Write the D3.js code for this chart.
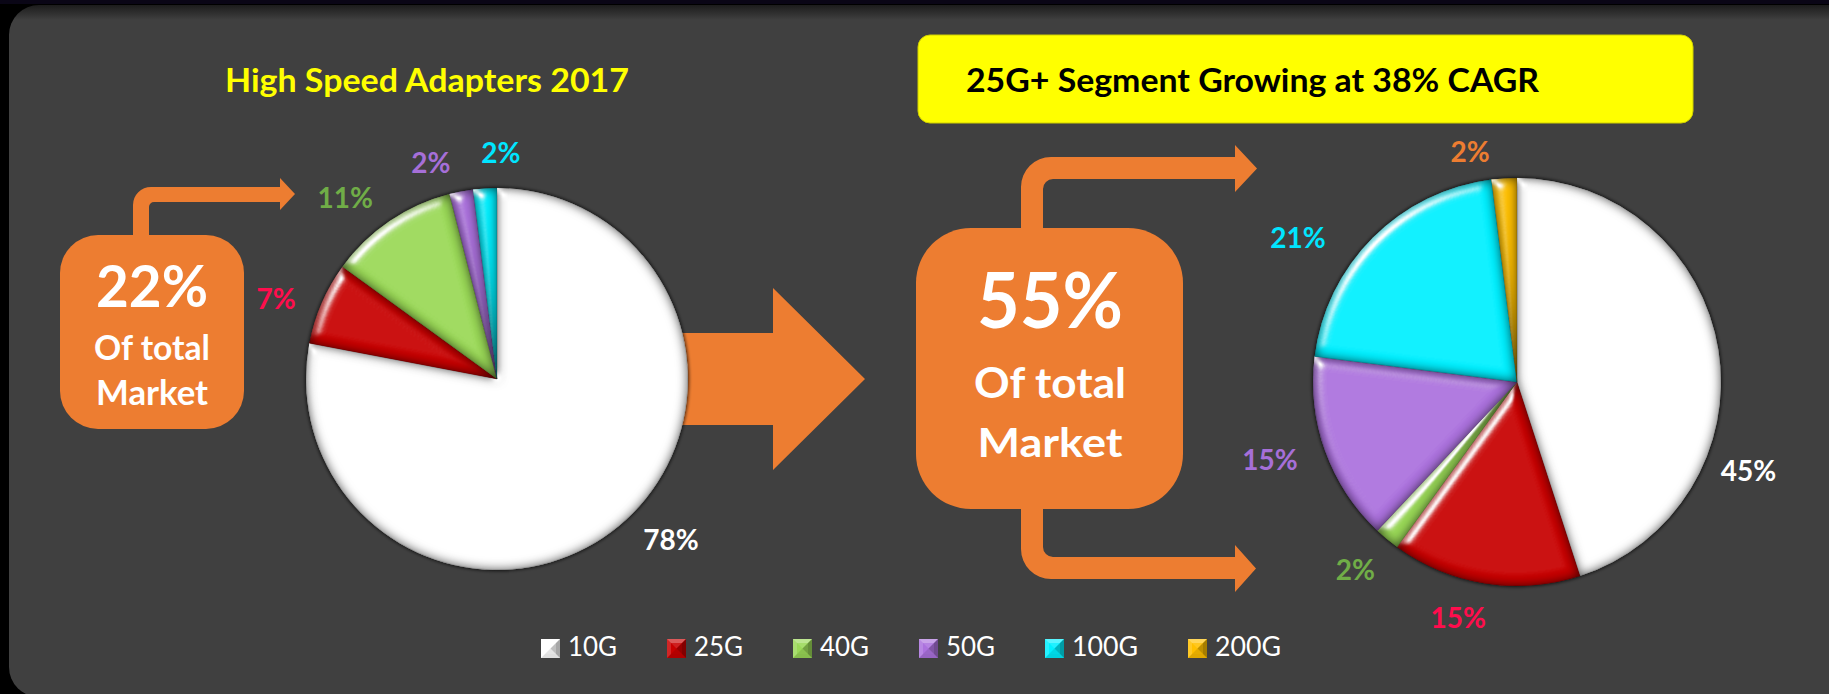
<!DOCTYPE html>
<html><head><meta charset="utf-8">
<script src="https://cdn.jsdelivr.net/npm/d3@7"></script>
<style>
html,body{margin:0;padding:0;background:#000;overflow:hidden;}
svg{display:block;}
</style></head><body>
<svg id="chart" width="1829" height="694"></svg>
<script>
// ---------- data ----------
const categories   = ["10G", "25G", "40G", "50G", "100G", "200G"];
const share2017    = [78, 7, 11, 2, 2, 0];
const shareFuture  = [45, 15, 2, 15, 21, 2];
const sliceColors  = ["#FFFFFF", "#C80000", "#9AD957", "#AC72DE", "#00F0FF", "#FFC000"];
const labelColors  = ["#FFFFFF", "#FF0D4D", "#70AD47", "#A66FD8", "#00E5FF", "#ED7D31"];
const leftTitle    = "High Speed Adapters 2017";
const rightTitle   = "25G+ Segment Growing at 38% CAGR";
const leftCallout  = ["22%", "Of total", "Market"];
const rightCallout = ["55%", "Of total", "Market"];

// ---------- layout ----------
const W = 1829, H = 694;
const FONT = "Lato, 'Open Sans', 'DejaVu Sans', sans-serif";
const ORANGE = "#ED7D31";
const svg = d3.select("#chart");
const defs = svg.append("defs");

// panel gradient (darker top edge)
const pg = defs.append("linearGradient").attr("id", "panelGrad")
  .attr("gradientUnits", "userSpaceOnUse").attr("x1", 0).attr("y1", 5).attr("x2", 0).attr("y2", 20);
pg.append("stop").attr("offset", 0).attr("stop-color", "#1c1c1c");
pg.append("stop").attr("offset", 1).attr("stop-color", "#404040");

// bevel filter
const f = defs.append("filter").attr("id", "bevel")
  .attr("x", "-5%").attr("y", "-5%").attr("width", "110%").attr("height", "110%")
  .attr("color-interpolation-filters", "sRGB");
f.append("feGaussianBlur").attr("in", "SourceAlpha").attr("stdDeviation", 5.5).attr("result", "blur");
f.append("feComposite").attr("in", "SourceAlpha").attr("in2", "blur").attr("operator", "arithmetic")
  .attr("k1", 0).attr("k2", 1).attr("k3", -1).attr("k4", 0).attr("result", "edge");
f.append("feFlood").attr("flood-color", "#000").attr("flood-opacity", 0.7).attr("result", "black");
f.append("feComposite").attr("in", "black").attr("in2", "edge").attr("operator", "in").attr("result", "shade");
const sp = f.append("feSpecularLighting").attr("in", "blur").attr("surfaceScale", 6)
  .attr("specularConstant", 1.0).attr("specularExponent", 22).attr("lighting-color", "#ffffff").attr("result", "spec");
sp.append("feDistantLight").attr("azimuth", 225).attr("elevation", 35);
f.append("feComposite").attr("in", "spec").attr("in2", "SourceAlpha").attr("operator", "in").attr("result", "specIn");
const fm = f.append("feMerge");
fm.append("feMergeNode").attr("in", "SourceGraphic");
fm.append("feMergeNode").attr("in", "shade");
fm.append("feMergeNode").attr("in", "specIn");

// soft shadow for pies
const sh = defs.append("filter").attr("id", "pieShadow").attr("x", "-10%").attr("y", "-10%").attr("width", "120%").attr("height", "120%");
sh.append("feGaussianBlur").attr("stdDeviation", 1.5);

// background
svg.append("rect").attr("width", W).attr("height", H).attr("fill", "#000");
svg.append("rect").attr("width", W).attr("height", 4).attr("fill", "#0a0616");
svg.append("rect").attr("x", 9).attr("y", 5).attr("width", W + 40).attr("height", 692)
  .attr("rx", 30).attr("fill", "url(#panelGrad)");

// ---------- helpers ----------
function fitText(sel, w) {
  sel.attr("textLength", w).attr("lengthAdjust", "spacingAndGlyphs");
  return sel;
}
function elbowUp(o) {
  return `M${o.x0},${o.yStart} L${o.x0},${o.b0 + o.Ro} A${o.Ro},${o.Ro} 0 0 1 ${o.x0 + o.Ro},${o.b0}
    L${o.hb},${o.b0} L${o.hb},${o.ht} L${o.tip},${(o.ht + o.hbot) / 2} L${o.hb},${o.hbot} L${o.hb},${o.b1}
    L${o.x1 + o.Ri},${o.b1} A${o.Ri},${o.Ri} 0 0 0 ${o.x1},${o.b1 + o.Ri} L${o.x1},${o.yStart} Z`;
}
function elbowDown(o) {
  return `M${o.x0},${o.yStart} L${o.x0},${o.b1 - o.Ro} A${o.Ro},${o.Ro} 0 0 0 ${o.x0 + o.Ro},${o.b1}
    L${o.hb},${o.b1} L${o.hb},${o.hbot} L${o.tip},${(o.ht + o.hbot) / 2} L${o.hb},${o.ht} L${o.hb},${o.b0}
    L${o.x1 + o.Ri},${o.b0} A${o.Ri},${o.Ri} 0 0 1 ${o.x1},${o.b0 - o.Ri} L${o.x1},${o.yStart} Z`;
}

// ---------- orange shapes ----------
svg.append("path")
  .attr("d", "M640,333 L773,333 L773,288 L865,379 L773,470 L773,425 L640,425 Z")
  .attr("fill", ORANGE);

svg.append("path").attr("fill", ORANGE).attr("d", elbowUp({
  x0: 133, x1: 149, b0: 187, b1: 202, yStart: 245, hb: 280, ht: 178, hbot: 210, tip: 295, Ro: 18, Ri: 5 }));
svg.append("rect").attr("x", 60).attr("y", 235).attr("width", 184).attr("height", 194)
  .attr("rx", 38).attr("fill", ORANGE);

svg.append("path").attr("fill", ORANGE).attr("d", elbowUp({
  x0: 1021, x1: 1043, b0: 157, b1: 179, yStart: 240, hb: 1235, ht: 145, hbot: 192, tip: 1257, Ro: 30, Ri: 10 }));
svg.append("path").attr("fill", ORANGE).attr("d", elbowDown({
  x0: 1021, x1: 1043, b0: 557, b1: 579, yStart: 495, hb: 1235, ht: 545, hbot: 592, tip: 1256, Ro: 30, Ri: 10 }));
svg.append("rect").attr("x", 916).attr("y", 228).attr("width", 267).attr("height", 281)
  .attr("rx", 55).attr("fill", ORANGE);

function callout(lines, cx, ys, sizes, widths) {
  lines.forEach((t, i) => {
    fitText(svg.append("text").attr("x", cx).attr("y", ys[i]).attr("text-anchor", "middle")
      .attr("font-family", FONT).attr("font-weight", 700).attr("font-size", sizes[i])
      .attr("fill", "#fff").text(t), widths[i]);
  });
}
callout(leftCallout, 152, [307, 360, 405], [58, 34, 34], [112, 116, 112]);
callout(rightCallout, 1050, [328, 398, 457], [76, 42, 41], [146, 152, 145]);

// ---------- titles ----------
fitText(svg.append("text").attr("x", 427).attr("y", 92).attr("text-anchor", "middle")
  .attr("font-family", FONT).attr("font-weight", 700).attr("font-size", 33)
  .attr("fill", "#FFFF00").text(leftTitle), 404);

svg.append("rect").attr("x", 918).attr("y", 35).attr("width", 775).attr("height", 88)
  .attr("rx", 12).attr("fill", "#FFFF00").attr("stroke", "#CFCF00").attr("stroke-width", 1);
fitText(svg.append("text").attr("x", 966).attr("y", 92)
  .attr("font-family", FONT).attr("font-weight", 700).attr("font-size", 33)
  .attr("fill", "#000").text(rightTitle), 573);

// ---------- pies ----------
const pie = d3.pie().sort(null).value(d => d.v);
const leftLabelShift = [-7.6, -3.4, -5.8, -6.2, 4.6, 0];
const leftLabelGap   = [46, 44, 45, 35, 35, 0];
const rightLabelShift = [30, 5, 1.1, 2.3, -11.7, -7.9];
const rightLabelGap   = [44, 39, 44, 55, 58, 31];

function drawPie(values, cx, cy, r, shifts, gaps) {
  const data = values.map((v, i) => ({ v, i, name: categories[i] }));
  const arcs = pie(data);
  const g = svg.append("g").attr("transform", `translate(${cx},${cy})`);
  g.append("circle").attr("r", r + 1.5).attr("fill", "rgba(0,0,0,0.55)").attr("filter", "url(#pieShadow)");
  const arc = d3.arc().innerRadius(0).outerRadius(r);
  g.selectAll("path.slice").data(arcs.filter(a => a.data.v > 0)).join("path")
    .attr("class", "slice")
    .attr("d", arc)
    .attr("fill", d => sliceColors[d.data.i])
    .attr("stroke", "rgba(0,0,0,0.25)").attr("stroke-width", 0.6)
    .attr("filter", "url(#bevel)");
  g.selectAll("text.lbl").data(arcs.filter(a => a.data.v > 0)).join("text")
    .attr("class", "lbl")
    .each(function (d) {
      const ang = (d.startAngle + d.endAngle) / 2 + shifts[d.data.i] * Math.PI / 180;
      const R = r + gaps[d.data.i];
      d3.select(this).attr("x", R * Math.sin(ang)).attr("y", -R * Math.cos(ang) + 10);
    })
    .attr("text-anchor", "middle")
    .attr("font-family", FONT).attr("font-weight", 700).attr("font-size", 28)
    .attr("fill", d => labelColors[d.data.i])
    .text(d => d.data.v + "%");
}
drawPie(share2017, 497, 379, 191, leftLabelShift, leftLabelGap);
drawPie(shareFuture, 1517, 382, 204, rightLabelShift, rightLabelGap);

// ---------- legend ----------
const legend = svg.append("g");
let lx = 541;
categories.forEach((c, i) => {
  const g = legend.append("g").attr("transform", `translate(${lx},639)`);
  const s = 19;
  g.append("rect").attr("width", s).attr("height", s).attr("fill", sliceColors[i]);
  const tri = (pts, fill) => g.append("polygon").attr("points", pts).attr("fill", fill);
  const m = s / 2, k = 4;
  tri(`0,0 ${s},0 ${s - k},${k} ${k},${k}`, "rgba(255,255,255,0.35)");
  tri(`0,${s} ${s},${s} ${s - k},${s - k} ${k},${s - k}`, "rgba(0,0,0,0.12)");
  tri(`0,0 ${k},${k} ${k},${s - k} 0,${s}`, "rgba(255,255,255,0.15)");
  tri(`${s},0 ${s - k},${k} ${s - k},${s - k} ${s},${s}`, "rgba(0,0,0,0.35)");
  tri(`${k},${k} ${s - k},${k} ${m},${m}`, "rgba(255,255,255,0.12)");
  tri(`${k},${s - k} ${s - k},${s - k} ${m},${m}`, "rgba(0,0,0,0.1)");
  tri(`${s - k},${k} ${s - k},${s - k} ${m},${m}`, "rgba(0,0,0,0.25)");
  const tw = c.length > 3 ? 66 : 49;
  fitText(g.append("text").attr("x", 27).attr("y", 17)
    .attr("font-family", FONT).attr("font-size", 26).attr("fill", "#fff").text(c), tw);
  lx += 27 + tw + 50;
});
</script>
</body></html>
